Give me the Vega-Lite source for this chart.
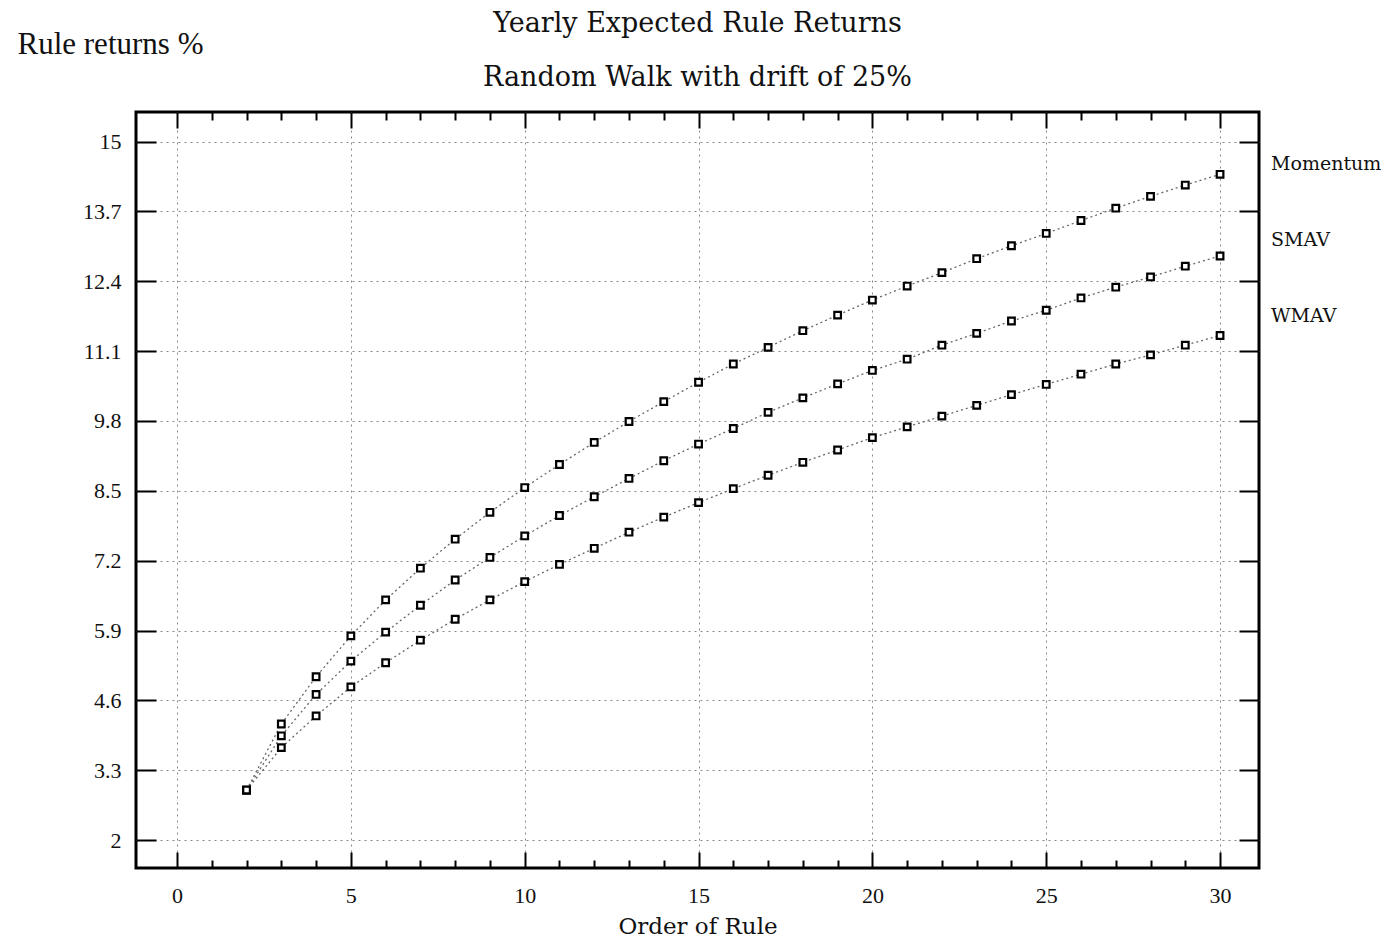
{
  "$schema": "https://vega.github.io/schema/vega-lite/v6.json",
  "width": 1123,
  "height": 756,
  "autosize": {"type": "none"},
  "padding": {"left": 136, "top": 112, "right": 124, "bottom": 75},
  "background": "white",
  "title": {
    "text": "Yearly Expected Rule Returns",
    "subtitle": "Random Walk with drift of 25%",
    "anchor": "middle",
    "frame": "group",
    "font": "DejaVu Serif",
    "fontSize": 27,
    "fontWeight": "normal",
    "color": "#111",
    "subtitleFont": "DejaVu Serif",
    "subtitleFontSize": 27,
    "subtitleColor": "#111",
    "subtitlePadding": 27,
    "offset": -64
  },
  "config": {
    "view": {"stroke": "black", "strokeWidth": 3},
    "axis": {
      "domain": false,
      "tickColor": "black",
      "tickWidth": 2,
      "gridColor": "#888",
      "gridDash": [2, 4],
      "gridWidth": 1,
      "labelFont": "Liberation Serif",
      "labelFontSize": 22,
      "labelColor": "#111",
      "titleFont": "DejaVu Serif",
      "titleFontWeight": "normal",
      "titleColor": "#111"
    }
  },
  "data": {
    "values": [
      {"order": 2, "series": "Momentum", "ret": 2.93},
      {"order": 3, "series": "Momentum", "ret": 4.16},
      {"order": 4, "series": "Momentum", "ret": 5.04},
      {"order": 5, "series": "Momentum", "ret": 5.80},
      {"order": 6, "series": "Momentum", "ret": 6.47},
      {"order": 7, "series": "Momentum", "ret": 7.06},
      {"order": 8, "series": "Momentum", "ret": 7.60},
      {"order": 9, "series": "Momentum", "ret": 8.10},
      {"order": 10, "series": "Momentum", "ret": 8.56},
      {"order": 11, "series": "Momentum", "ret": 8.99},
      {"order": 12, "series": "Momentum", "ret": 9.40},
      {"order": 13, "series": "Momentum", "ret": 9.79},
      {"order": 14, "series": "Momentum", "ret": 10.16},
      {"order": 15, "series": "Momentum", "ret": 10.52},
      {"order": 16, "series": "Momentum", "ret": 10.86},
      {"order": 17, "series": "Momentum", "ret": 11.17},
      {"order": 18, "series": "Momentum", "ret": 11.48},
      {"order": 19, "series": "Momentum", "ret": 11.77},
      {"order": 20, "series": "Momentum", "ret": 12.05},
      {"order": 21, "series": "Momentum", "ret": 12.31},
      {"order": 22, "series": "Momentum", "ret": 12.56},
      {"order": 23, "series": "Momentum", "ret": 12.82},
      {"order": 24, "series": "Momentum", "ret": 13.06},
      {"order": 25, "series": "Momentum", "ret": 13.29},
      {"order": 26, "series": "Momentum", "ret": 13.53},
      {"order": 27, "series": "Momentum", "ret": 13.76},
      {"order": 28, "series": "Momentum", "ret": 13.98},
      {"order": 29, "series": "Momentum", "ret": 14.19},
      {"order": 30, "series": "Momentum", "ret": 14.39},
      {"order": 2, "series": "SMAV", "ret": 2.93},
      {"order": 3, "series": "SMAV", "ret": 3.94},
      {"order": 4, "series": "SMAV", "ret": 4.71},
      {"order": 5, "series": "SMAV", "ret": 5.33},
      {"order": 6, "series": "SMAV", "ret": 5.87},
      {"order": 7, "series": "SMAV", "ret": 6.37},
      {"order": 8, "series": "SMAV", "ret": 6.84},
      {"order": 9, "series": "SMAV", "ret": 7.26},
      {"order": 10, "series": "SMAV", "ret": 7.66},
      {"order": 11, "series": "SMAV", "ret": 8.04},
      {"order": 12, "series": "SMAV", "ret": 8.39},
      {"order": 13, "series": "SMAV", "ret": 8.73},
      {"order": 14, "series": "SMAV", "ret": 9.06},
      {"order": 15, "series": "SMAV", "ret": 9.37},
      {"order": 16, "series": "SMAV", "ret": 9.66},
      {"order": 17, "series": "SMAV", "ret": 9.96},
      {"order": 18, "series": "SMAV", "ret": 10.23},
      {"order": 19, "series": "SMAV", "ret": 10.49},
      {"order": 20, "series": "SMAV", "ret": 10.74},
      {"order": 21, "series": "SMAV", "ret": 10.95},
      {"order": 22, "series": "SMAV", "ret": 11.21},
      {"order": 23, "series": "SMAV", "ret": 11.43},
      {"order": 24, "series": "SMAV", "ret": 11.66},
      {"order": 25, "series": "SMAV", "ret": 11.86},
      {"order": 26, "series": "SMAV", "ret": 12.09},
      {"order": 27, "series": "SMAV", "ret": 12.29},
      {"order": 28, "series": "SMAV", "ret": 12.48},
      {"order": 29, "series": "SMAV", "ret": 12.68},
      {"order": 30, "series": "SMAV", "ret": 12.87},
      {"order": 2, "series": "WMAV", "ret": 2.93},
      {"order": 3, "series": "WMAV", "ret": 3.72},
      {"order": 4, "series": "WMAV", "ret": 4.31},
      {"order": 5, "series": "WMAV", "ret": 4.85},
      {"order": 6, "series": "WMAV", "ret": 5.30},
      {"order": 7, "series": "WMAV", "ret": 5.72},
      {"order": 8, "series": "WMAV", "ret": 6.11},
      {"order": 9, "series": "WMAV", "ret": 6.47},
      {"order": 10, "series": "WMAV", "ret": 6.81},
      {"order": 11, "series": "WMAV", "ret": 7.13},
      {"order": 12, "series": "WMAV", "ret": 7.43},
      {"order": 13, "series": "WMAV", "ret": 7.73},
      {"order": 14, "series": "WMAV", "ret": 8.01},
      {"order": 15, "series": "WMAV", "ret": 8.28},
      {"order": 16, "series": "WMAV", "ret": 8.54},
      {"order": 17, "series": "WMAV", "ret": 8.79},
      {"order": 18, "series": "WMAV", "ret": 9.03},
      {"order": 19, "series": "WMAV", "ret": 9.26},
      {"order": 20, "series": "WMAV", "ret": 9.49},
      {"order": 21, "series": "WMAV", "ret": 9.69},
      {"order": 22, "series": "WMAV", "ret": 9.89},
      {"order": 23, "series": "WMAV", "ret": 10.09},
      {"order": 24, "series": "WMAV", "ret": 10.29},
      {"order": 25, "series": "WMAV", "ret": 10.48},
      {"order": 26, "series": "WMAV", "ret": 10.67},
      {"order": 27, "series": "WMAV", "ret": 10.86},
      {"order": 28, "series": "WMAV", "ret": 11.03},
      {"order": 29, "series": "WMAV", "ret": 11.21},
      {"order": 30, "series": "WMAV", "ret": 11.39}
    ]
  },
  "layer": [
    {
      "mark": {"type": "line", "color": "#666", "strokeWidth": 1.3, "strokeDash": [2, 3]},
      "encoding": {
        "x": {
          "field": "order", "type": "quantitative",
          "scale": {"domain": [-1.18, 31.12], "nice": false, "zero": false},
          "axis": {
            "orient": "bottom",
            "values": [0,1,2,3,4,5,6,7,8,9,10,11,12,13,14,15,16,17,18,19,20,21,22,23,24,25,26,27,28,29,30],
            "format": "d",
            "labelExpr": "datum.value % 5 === 0 ? datum.label : ''",
            "tickSize": {"condition": {"test": "datum.value % 5 === 0", "value": -16}, "value": -8},
            "gridOpacity": {"condition": {"test": "datum.value % 5 === 0", "value": 1}, "value": 0},
            "labelPadding": 33,
            "title": "Order of Rule",
            "titleFontSize": 23,
            "titlePadding": 9
          }
        },
        "y": {
          "field": "ret", "type": "quantitative",
          "scale": {"domain": [1.48, 15.55], "nice": false, "zero": false},
          "axis": {
            "orient": "left",
            "values": [2, 3.3, 4.6, 5.9, 7.2, 8.5, 9.8, 11.1, 12.4, 13.7, 15],
            "labelExpr": "'' + datum.value",
            "tickSize": -20,
            "labelPadding": 35,
            "title": "Rule returns %",
            "titleFont": "Liberation Serif",
            "titleFontSize": 31,
            "titleAngle": 0,
            "titleAlign": "left",
            "titleBaseline": "alphabetic",
            "titleX": -119,
            "titleY": -59
          }
        },
        "detail": {"field": "series"}
      }
    },
    {
      "mark": {"type": "point", "shape": "square", "filled": true, "fill": "white", "stroke": "black", "strokeWidth": 2.2, "size": 44, "opacity": 1},
      "encoding": {
        "x": {
          "field": "order", "type": "quantitative",
          "axis": {
            "orient": "top",
            "values": [0,1,2,3,4,5,6,7,8,9,10,11,12,13,14,15,16,17,18,19,20,21,22,23,24,25,26,27,28,29,30],
            "labels": false,
            "grid": false,
            "tickSize": {"condition": {"test": "datum.value % 5 === 0", "value": -16}, "value": -8},
            "title": null
          }
        },
        "y": {
          "field": "ret", "type": "quantitative",
          "axis": {
            "orient": "right",
            "values": [2, 3.3, 4.6, 5.9, 7.2, 8.5, 9.8, 11.1, 12.4, 13.7, 15],
            "labels": false,
            "grid": false,
            "tickSize": -20,
            "title": null
          }
        },
        "shape": {
          "field": "series", "type": "nominal",
          "scale": {"range": ["square", "square", "square"]},
          "legend": {
            "title": null,
            "orient": "none",
            "legendX": 1116,
            "legendY": 42,
            "symbolOpacity": 0,
            "symbolSize": 1,
            "symbolStrokeWidth": 0,
            "labelOffset": 0,
            "labelFont": "DejaVu Serif",
            "labelFontSize": 19,
            "labelColor": "#111",
            "rowPadding": 56
          }
        }
      }
    }
  ],
  "resolve": {"axis": {"x": "independent", "y": "independent"}}
}
